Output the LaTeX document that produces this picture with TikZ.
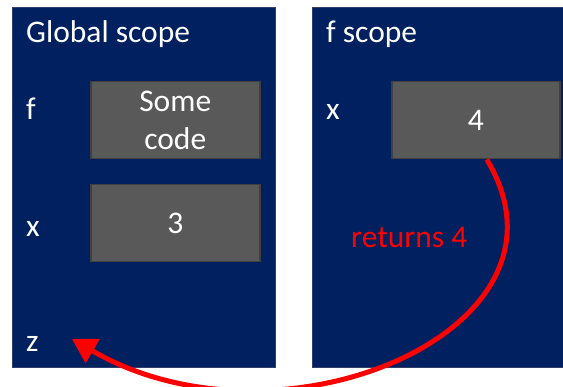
\documentclass[tikz,border=0pt]{standalone}
\usepackage{fontspec}
\setmainfont{Carlito}
\usetikzlibrary{arrows.meta}
\definecolor{navy}{HTML}{002060}
\definecolor{navyedge}{HTML}{2E3F6E}
\definecolor{cellgray}{HTML}{595959}
\definecolor{celledge}{HTML}{404040}
\definecolor{retred}{HTML}{FF0000}
\begin{document}
\begin{tikzpicture}[x=1pt,y=-1pt,
  panel/.style={draw=navyedge, fill=navy, line width=0.8pt, anchor=north west, inner sep=0pt},
  cell/.style={draw=celledge, fill=cellgray, line width=1.5pt, anchor=north west, inner sep=0pt,
    text=white, align=center, font=\fontsize{31.5}{38}\selectfont},
  lbl/.style={text=white, font=\fontsize{31.5}{36}\selectfont, anchor=base west, inner sep=0pt},
  retlbl/.style={text=retred, font=\fontsize{31.5}{36}\selectfont, anchor=base west, inner sep=0pt},
  retarrow/.style={draw=retred, line width=5pt, -{Triangle[length=24pt,width=27pt]}}
]
\useasboundingbox (0,0) rectangle (563,387);
% panels
\node[panel, minimum width=263pt, minimum height=360pt] (global) at (12,7) {};
\node[panel, minimum width=252pt, minimum height=360pt] (fscope) at (312,7) {};
% cells
\node[cell, minimum width=169pt, minimum height=77pt] (code) at (90,81) {Some\\code};
\node[cell, minimum width=169pt, minimum height=77pt] (three) at (90,184) {3};
\node[cell, minimum width=168pt, minimum height=77pt] (four) at (391,81) {4};
% labels
\node[lbl] (gtitle) at (26,43) {Global scope};
\node[lbl] (fname) at (26,120) {f};
\node[lbl] (xname) at (26,237) {x};
\node[lbl] (zname) at (26,352) {z};
\node[lbl] (ftitle) at (326,43) {f scope};
\node[lbl] (fxname) at (326,120) {x};
\node[retlbl] (ret) at (351,248) {returns 4};
% arrow
\coordinate (rstart) at ([xshift=11pt]four.south);
\coordinate (ztip) at (72,339);
\draw[retarrow] (rstart) .. controls (590,330) and (280,460) .. (ztip);
\end{tikzpicture}
\end{document}
